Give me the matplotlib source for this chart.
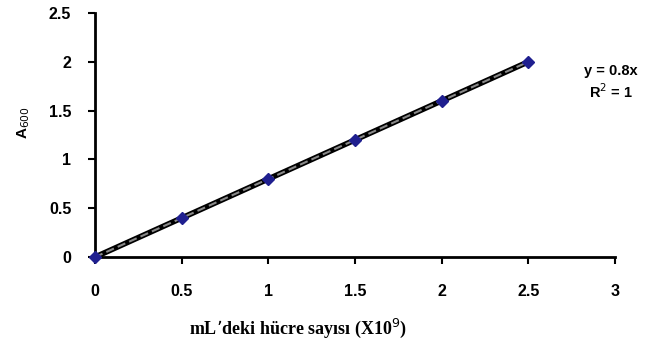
#Recreates the A600 vs cell count calibration chart
import numpy as np
import matplotlib.pyplot as plt

#data
cells = [0, 0.5, 1, 1.5, 2, 2.5]
absorb = [0, 0.4, 0.8, 1.2, 1.6, 2.0]
xticks = [0, 0.5, 1, 1.5, 2, 2.5, 3]
yticks = [0, 0.5, 1, 1.5, 2, 2.5]

fig = plt.figure(figsize=(6.5, 3.47), dpi=100)
ax = fig.add_axes([0.146, 0.259, 0.80, 0.7035])

#linear trendline through origin
slope = np.sum(np.array(cells)*np.array(absorb))/np.sum(np.array(cells)**2)
fitx = np.array([0, 2.5])
ax.plot(cells, absorb, color="black", lw=4, zorder=2)
ax.plot(fitx, slope*fitx, color="#888888", lw=1.5, ls=(0, (4, 2)), zorder=3)
ax.plot(cells, absorb, ls="none", marker="D", ms=6, color="#1f1f8f", zorder=4, clip_on=False)

ax.set_xlim(0, 3)
ax.set_ylim(0, 2.5)
ax.set_xticks(xticks)
ax.set_yticks(yticks)
ax.set_xticklabels([str(t) for t in xticks], fontweight="bold", fontfamily="Liberation Sans", fontsize=11.5)
ax.set_yticklabels([str(t) for t in yticks], fontweight="bold", fontfamily="Liberation Sans", fontsize=11.5)

for s in ["top", "right"]:
    ax.spines[s].set_visible(False)
ax.spines["left"].set_linewidth(2)
ax.spines["bottom"].set_linewidth(2)
ax.tick_params(axis="both", direction="out", length=5, width=1.5)
ax.tick_params(axis="x", pad=14)
ax.tick_params(axis="y", pad=12)

ax.set_ylabel("A$_{600}$", fontfamily="Liberation Sans", fontweight="bold", fontsize=11)
ax.yaxis.set_label_coords(-0.12, 0.55)
ax.set_xlabel("mL\u2019deki h\u00fccre say\u0131s\u0131 (X10$^{9}$)", fontfamily="Liberation Serif",
              fontweight="bold", fontsize=13)
ax.xaxis.set_label_coords(0.39, -0.245)

ax.text(0.94, 0.815, "y = 0.8x\nR$^{2}$ = 1", transform=fig.transFigure, ha="center", va="top",
        fontfamily="Liberation Sans", fontweight="bold", fontsize=10.5, linespacing=1.25,
        multialignment="center")

fig.savefig("out.png", dpi=100)
